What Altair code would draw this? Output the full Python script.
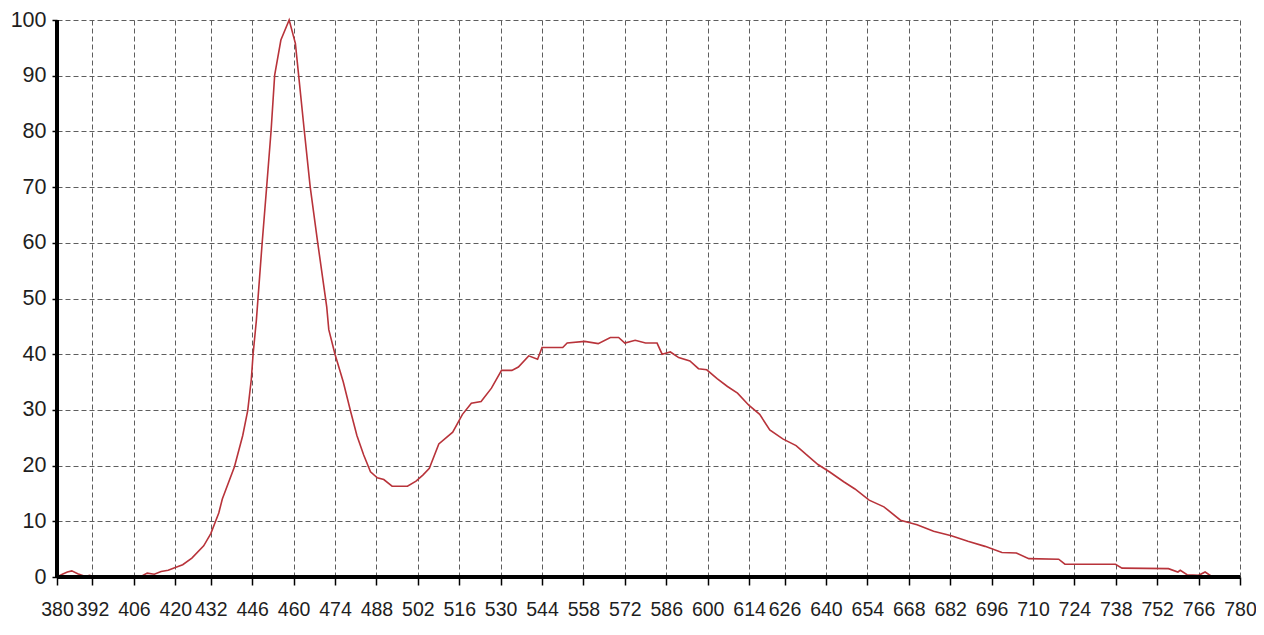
import altair as alt
import pandas as pd

wavelength = [380, 381.8, 383.5, 385.0, 387.0, 389.6, 391.0, 392.7, 399, 408.1, 410.5, 412.9, 415.2, 417.6,
              420, 422.5, 425.6, 429.6, 432, 434.7, 435.9, 440.0, 442.8, 444.5, 445.7, 446.3, 447.4, 449.4,
              450.9, 452.4, 453.6, 455.7, 458.5, 460.6, 461.7, 463.6, 465.6, 468.1, 471.2, 471.9, 474, 476.8,
              479.2, 481.4, 483.7, 486.0, 488.3, 490.5, 493.3, 498.5, 501.4, 503.7, 505.9, 509.1, 513.8, 517.1,
              520.1, 523.4, 526.9, 530.3, 533.8, 536.0, 539.5, 542.5, 544, 551, 552.5, 558.4, 563.0, 567.1,
              569.9, 572, 575.5, 579, 582.9, 584.6, 587.4, 590.2, 594.0, 596.9, 599.7, 603.2, 606.7, 610.1,
              614, 617.6, 621.0, 625.4, 629.9, 633.3, 637.3, 641.4, 646.0, 649.8, 654.6, 659.6, 665.2, 670.8,
              676.4, 682.4, 688.0, 693.8, 699.5, 704.4, 708.6, 718.7, 720.8, 737.9, 740.1, 755.8, 759, 759.8,
              762.1, 766, 768.2, 770.2, 780]
intensity = [0, 0.5, 0.9, 1.1, 0.6, 0.1, 0.3, 0, 0, 0, 0.7, 0.5, 1.0, 1.2,
             1.7, 2.2, 3.4, 5.6, 7.8, 11.5, 14.0, 19.8, 25.4, 29.9, 35.5, 40, 46, 60.2,
             70.1, 80.2, 90.1, 96.4, 100, 95.8, 90.1, 80.2, 70.1, 60.2, 48.5, 44.4, 40, 35,
             29.9, 25.4, 21.9, 18.9, 17.8, 17.5, 16.3, 16.3, 17.2, 18.3, 19.5, 23.9, 26, 29.2,
             31.2, 31.5, 33.9, 37.1, 37.1, 37.7, 39.7, 39.1, 41.2, 41.2, 42, 42.3, 41.9, 43,
             43, 42, 42.5, 42, 42, 40, 40.4, 39.4, 38.8, 37.4, 37.2, 35.6, 34.2, 33,
             30.8, 29.2, 26.4, 24.8, 23.6, 22.0, 20.2, 18.8, 17.1, 15.8, 13.8, 12.6, 10.2, 9.4,
             8.2, 7.4, 6.4, 5.5, 4.4, 4.3, 3.3, 3.2, 2.3, 2.3, 1.6, 1.5, 0.9, 1.2,
             0.4, 0.3, 0.9, 0.2, 0.2]

x_ticks = [380, 392, 406, 420, 432, 446, 460, 474, 488, 502, 516, 530, 544, 558, 572, 586, 600,
           614, 626, 640, 654, 668, 682, 696, 710, 724, 738, 752, 766, 780]
y_ticks = [0, 10, 20, 30, 40, 50, 60, 70, 80, 90, 100]

df = pd.DataFrame({"wavelength": wavelength, "intensity": intensity})

FONT = "Liberation Sans"

xscale = alt.Scale(domain=[380, 780], nice=False, zero=False)
yscale = alt.Scale(domain=[0, 100], nice=False)

base = alt.Chart(df)

line = base.mark_line(color="#b8333a", strokeWidth=1.6).encode(
    x=alt.X("wavelength:Q", scale=xscale,
            axis=alt.Axis(values=x_ticks, title=None, grid=True, gridDash=[5, 3], gridColor="#5e5e5e",
                          gridWidth=1, domainColor="black", domainWidth=3, tickColor="black", tickSize=8,
                          tickWidth=1.5, labelFont=FONT, labelFontSize=19.5, labelPadding=15,
                          labelColor="#1e1e1e", labelFlush=False, labelOverlap=False)),
    y=alt.Y("intensity:Q", scale=yscale,
            axis=alt.Axis(values=y_ticks, title=None, grid=True, gridDash=[5, 3], gridColor="#5e5e5e",
                          gridWidth=1, domainColor="black", domainWidth=3, tickColor="black", tickSize=5,
                          tickWidth=1.5, labelFont=FONT, labelFontSize=21.5, labelPadding=6,
                          labelColor="#1e1e1e", labelFlush=False, labelOverlap=False)),
)

zero_rule = base.mark_rule(color="black", strokeWidth=3).encode(y=alt.datum(0))
left_rule = base.mark_rule(color="black", strokeWidth=3).encode(x=alt.datum(380))

chart = alt.layer(line, zero_rule, left_rule).properties(
    width=1183, height=557,
    autosize=alt.AutoSizeParams(type="none"),
    padding={"left": 49, "top": 12, "right": 16, "bottom": 44},
).configure_view(stroke=None)

chart.save("out.html", embed_options={"renderer": "svg", "actions": False})
